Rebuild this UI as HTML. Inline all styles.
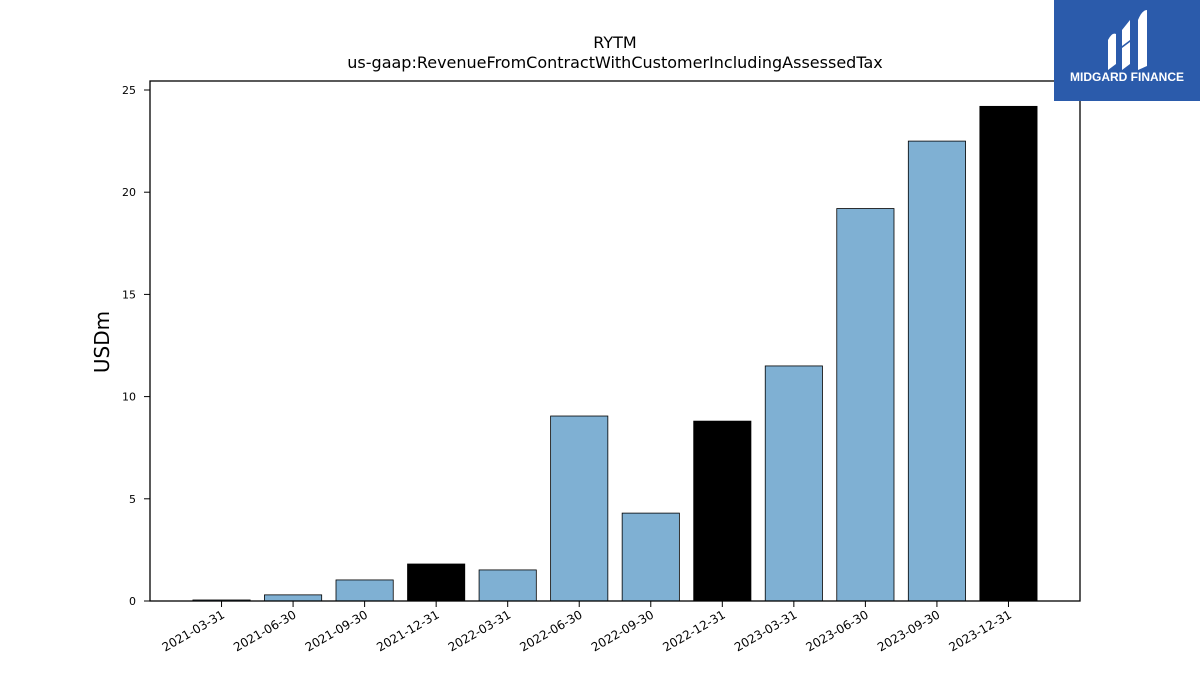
<!DOCTYPE html>
<html><head><meta charset="utf-8"><style>
body{margin:0;background:#fff;font-family:"Liberation Sans","DejaVu Sans",sans-serif}
</style></head><body>
<svg width="1200" height="675" xmlns="http://www.w3.org/2000/svg" font-family="DejaVu Sans, Liberation Sans, sans-serif">
<rect width="1200" height="675" fill="#fff"/>
<text x="615" y="48" text-anchor="middle" font-size="16">RYTM</text>
<text x="615" y="68" text-anchor="middle" font-size="16">us-gaap:RevenueFromContractWithCustomerIncludingAssessedTax</text>
<text transform="translate(109,342) rotate(-90)" text-anchor="middle" font-size="20">USDm</text>
<g id="bars"></g><g id="yt"></g><g id="xt"></g>
<rect x="150" y="81" width="930" height="520" fill="none" stroke="#000" stroke-width="1.3"/>
<g>
<rect x="1054" y="0" width="146" height="101" fill="#2b5bab"/>
<path d="M1108 40 q4-8 8-6 v30 l-8 6z M1122 30 l8-10 v20 l-8 6z M1122 48 l8-6 v22 l-8 6z M1138 20 q4-10 9-10 v56 l-9 4z" fill="#fff"/>
<text x="1127" y="81" text-anchor="middle" font-size="12" font-weight="bold" fill="#fff" font-family="Liberation Sans, sans-serif">MIDGARD FINANCE</text>
</g>
</svg>
<script>
const categories=["2021-03-31","2021-06-30","2021-09-30","2021-12-31","2022-03-31","2022-06-30","2022-09-30","2022-12-31","2023-03-31","2023-06-30","2023-09-30","2023-12-31"];
const values=[0.05,0.3,1.03,1.81,1.52,9.05,4.3,8.8,11.5,19.2,22.5,24.2];
const highlight=[false,false,false,true,false,false,false,true,false,false,false,true];
const yTicks=[0,5,10,15,20,25];
const NS="http://www.w3.org/2000/svg";
const x0=150,x1=1080,y0=601,yTop=90;
const n=categories.length;
const xs=i=>x0+(i+1)*(x1-x0)/(n+1);
const ys=v=>y0-v*(y0-yTop)/25;
const bw=0.8*(x1-x0)/(n+1);
const bars=document.getElementById('bars'),yt=document.getElementById('yt'),xt=document.getElementById('xt');
values.forEach((v,i)=>{
 const r=document.createElementNS(NS,'rect');
 r.setAttribute('x',xs(i)-bw/2);r.setAttribute('y',ys(v));r.setAttribute('width',bw);r.setAttribute('height',y0-ys(v));
 r.setAttribute('fill',highlight[i]?'#000':'#7fb0d3');r.setAttribute('stroke','#000');r.setAttribute('stroke-width','0.8');
 
 
 bars.appendChild(r);
 const t=document.createElementNS(NS,'line');
 t.setAttribute('x1',xs(i));t.setAttribute('x2',xs(i));t.setAttribute('y1',y0);t.setAttribute('y2',y0+6);t.setAttribute('stroke','#000');
 
 
 xt.appendChild(t);
 const l=document.createElementNS(NS,'text');
 l.setAttribute('transform',`translate(${xs(i)+4},${y0+16}) rotate(-30)`);
 l.setAttribute('text-anchor','end');l.setAttribute('font-size','12');l.textContent=categories[i];
 
 
 xt.appendChild(l);
});
yTicks.forEach(v=>{
 const t=document.createElementNS(NS,'line');
 t.setAttribute('x1',x0-6);t.setAttribute('x2',x0);t.setAttribute('y1',ys(v));t.setAttribute('y2',ys(v));t.setAttribute('stroke','#000');
 
 
 yt.appendChild(t);
 const l=document.createElementNS(NS,'text');
 l.setAttribute('x',x0-14);l.setAttribute('y',ys(v)+4);l.setAttribute('text-anchor','end');l.setAttribute('font-size','11');l.textContent=v;
 
 
 yt.appendChild(l);
});
</script>
</body></html>
